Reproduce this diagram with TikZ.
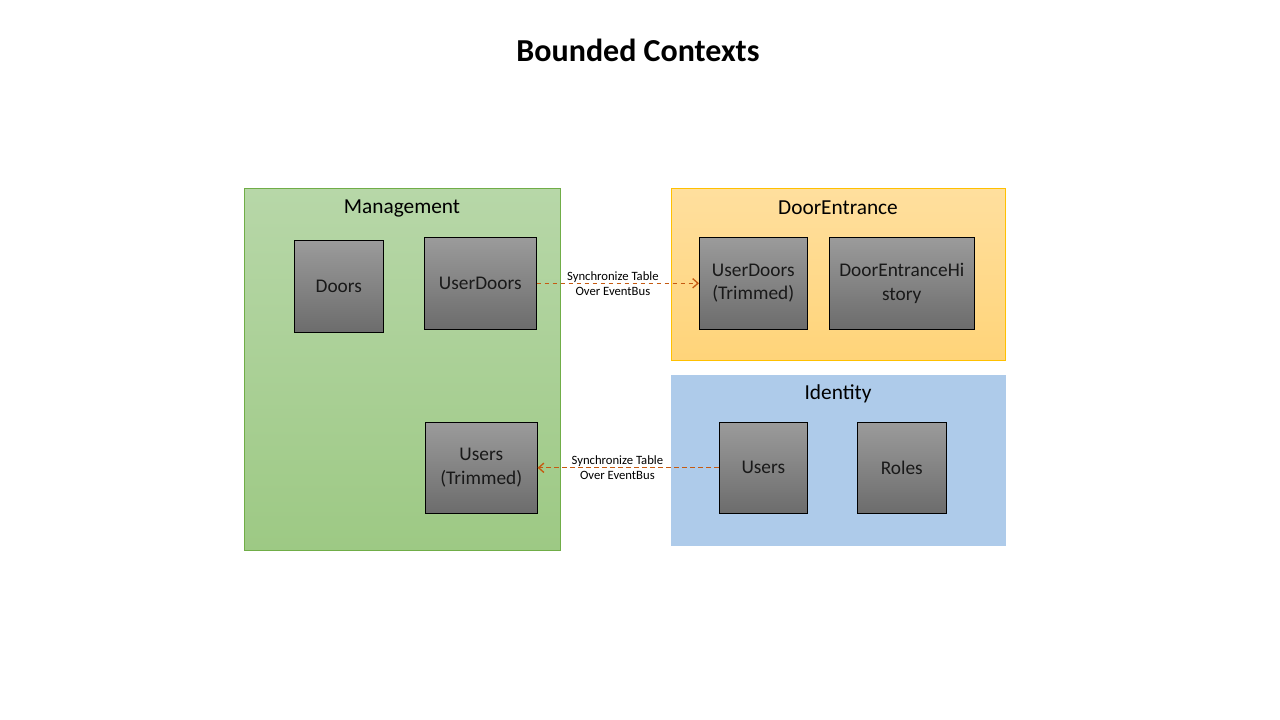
\documentclass[tikz,border=0pt]{standalone}
\usepackage{fontspec}
\setmainfont{Carlito}
\usetikzlibrary{arrows.meta}

\definecolor{mgmtTop}{HTML}{B7D7A8}
\definecolor{mgmtBot}{HTML}{9DC984}
\definecolor{mgmtLine}{HTML}{70AD47}
\definecolor{doorTop}{HTML}{FFDF9E}
\definecolor{doorBot}{HTML}{FFD479}
\definecolor{doorLine}{HTML}{FFC000}
\definecolor{idFill}{HTML}{AECBEA}
\definecolor{tblTop}{HTML}{9B9B9B}
\definecolor{tblBot}{HTML}{6C6C6C}
\definecolor{syncLine}{HTML}{C55A11}

\begin{document}
\begin{tikzpicture}[x=0.75pt,y=-0.75pt,>={Straight Barb[length=4pt,width=7pt]},
  context node/.style={draw,anchor=north west,inner sep=0pt},
  context title/.style={font=\fontsize{16}{19}\selectfont},
  table node/.style={draw=black,anchor=north west,inner sep=0pt,align=center,
    top color=tblTop,bottom color=tblBot,text=black!90,font=\fontsize{14.5}{17.5}\selectfont},
  sync edge/.style={->,dash pattern=on 3.5pt off 2.5pt,draw=syncLine,line width=1pt},
  sync label/.style={font=\fontsize{9.5}{11.25}\selectfont,align=center,inner sep=0pt}]

  \useasboundingbox (0,0) rectangle (1280,720);

  \node (title) at (638,50) {\fontsize{24}{29}\selectfont\bfseries Bounded Contexts};

  % bounded contexts
  \node[context node,draw=mgmtLine,top color=mgmtTop,bottom color=mgmtBot,
    minimum width=237pt,minimum height=271.5pt] (mgmt) at (244,188) {};
  \node[context node,draw=doorLine,top color=doorTop,bottom color=doorBot,
    minimum width=250.5pt,minimum height=129pt] (door) at (671,188) {};
  \node[context node,draw=idFill,fill=idFill,
    minimum width=250.5pt,minimum height=127.5pt] (ident) at (671,375) {};

  \node[context title] (mgmt title) at (402,208) {Management};
  \node[context title] (door title) at (838,208) {DoorEntrance};
  \node[context title] (ident title) at (838,394) {Identity};

  % tables
  \node[table node,minimum width=66.75pt,minimum height=69pt] (doors) at (294,240) {Doors};
  \node[table node,minimum width=84pt,minimum height=69pt] (userdoors) at (424,237) {UserDoors};
  \node[table node,minimum width=84pt,minimum height=68.25pt] (users trim) at (425,422) {Users\\(Trimmed)};
  \node[table node,minimum width=81pt,minimum height=69pt] (userdoors trim) at (699,237) {UserDoors\\(Trimmed)};
  \node[table node,minimum width=108.75pt,minimum height=69pt] (history) at (829,237) {DoorEntranceHi\\story};
  \node[table node,minimum width=66pt,minimum height=68.25pt] (users) at (719,422) {Users};
  \node[table node,minimum width=66.75pt,minimum height=68.25pt] (roles) at (857,422) {Roles};

  % synchronisation
  \draw[sync edge] (userdoors) -- (userdoors trim);
  \draw[sync edge] (users) -- (users trim);
  \path (userdoors) -- node[sync label,pos=0.47] {Synchronize Table\\Over EventBus} (userdoors trim);
  \path (users) -- node[sync label,pos=0.56] {Synchronize Table\\Over EventBus} (users trim);
\end{tikzpicture}
\end{document}
